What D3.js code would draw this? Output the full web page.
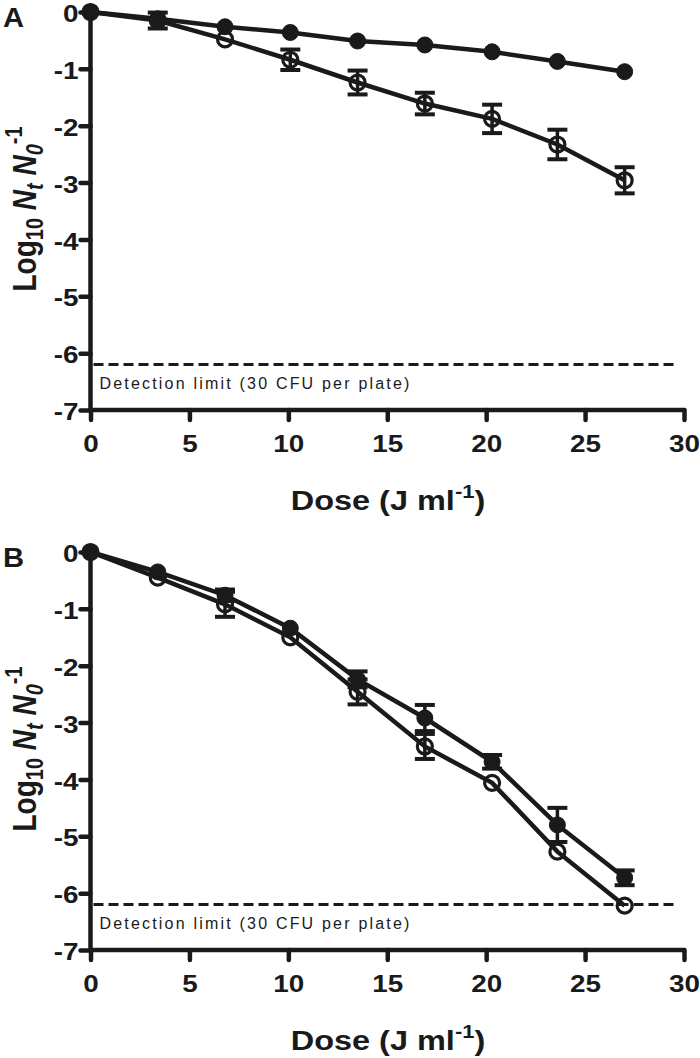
<!DOCTYPE html>
<html><head><meta charset="utf-8">
<script src="https://cdn.jsdelivr.net/npm/d3@7"></script>
<style>body{margin:0;background:#fff}svg{display:block}</style>
</head><body>
<script>
const dose = [0, 3.4, 6.8, 10.1, 13.5, 16.9, 20.3, 23.6, 27.0];
const xTicks = [0, 5, 10, 15, 20, 25, 30];
const yTicks = [0, -1, -2, -3, -4, -5, -6, -7];
const detectionLimit = -6.2;
const detectionText = "Detection limit (30 CFU per plate)";
const panelLabels = ["A", "B"];

const aFilled    = [0, -0.12, -0.26, -0.36, -0.51, -0.58, -0.70, -0.87, -1.05];
const aFilledErr = [0, 0.05, 0.04, 0.04, 0.04, 0.04, 0.04, 0.04, 0.04];
const aOpen      = [0, -0.15, -0.48, -0.84, -1.24, -1.61, -1.88, -2.33, -2.96];
const aOpenErr   = [0, 0.14, 0.06, 0.18, 0.21, 0.19, 0.25, 0.26, 0.23];

const bFilled    = [0, -0.35, -0.76, -1.34, -2.24, -2.92, -3.69, -4.80, -5.73];
const bFilledErr = [0, 0.05, 0.10, 0.05, 0.14, 0.23, 0.12, 0.30, 0.13];
const bOpen      = [0, -0.45, -0.92, -1.50, -2.46, -3.42, -4.06, -5.27, -6.22];
const bOpenErr   = [0, 0.05, 0.22, 0.05, 0.22, 0.22, 0.05, 0.05, 0.05];

const panels = [
  {label: panelLabels[0], top: 12, filled: aFilled, filledErr: aFilledErr, open: aOpen, openErr: aOpenErr},
  {label: panelLabels[1], top: 552, filled: bFilled, filledErr: bFilledErr, open: bOpen, openErr: bOpenErr}
];

const W = 700, H = 1058;
const svg = d3.select("body").append("svg").attr("width", W).attr("height", H);
const col = "#1a1a1a";
const font = "Liberation Sans, Arial, sans-serif";
const sx = 1.16;
const x = d3.scaleLinear().domain([0, 30]).range([90.5, 684]);
const fmt = d => String(d);

panels.forEach(p => {
  const y = d3.scaleLinear().domain([0, -7]).range([p.top, p.top + 398]);
  const g = svg.append("g");

  const yAx = g.append("g").attr("transform", `translate(${x(0)},0)`)
    .call(d3.axisLeft(y).tickValues(yTicks).tickFormat(fmt).tickSize(10).tickPadding(2));
  const xAx = g.append("g").attr("transform", `translate(0,${y(-7)})`)
    .call(d3.axisBottom(x).tickValues(xTicks).tickFormat(fmt).tickSize(10).tickPadding(15));
  [yAx, xAx].forEach(a => {
    a.select(".domain").remove();
    a.selectAll("line").attr("stroke", col).attr("stroke-width", 4.5).attr("stroke-linecap", "round");
    a.selectAll("text").attr("fill", col).attr("font-family", font)
      .attr("font-weight", "bold").attr("font-size", 24).attr("transform", `scale(${sx},1)`);
  });
  xAx.selectAll("text").attr("dy", "0.71em");
  yAx.selectAll("text").attr("dy", "0.4em").attr("x", -12 / sx);
  g.append("line").attr("x1", x(0)).attr("x2", x(0)).attr("y1", y(0)).attr("y2", y(-7))
    .attr("stroke", col).attr("stroke-width", 4.5).attr("stroke-linecap", "round");
  g.append("line").attr("x1", x(0)).attr("x2", x(30)).attr("y1", y(-7)).attr("y2", y(-7))
    .attr("stroke", col).attr("stroke-width", 4.5).attr("stroke-linecap", "round");

  g.append("line").attr("x1", x(0) + 3).attr("x2", x(29.7)).attr("y1", y(detectionLimit)).attr("y2", y(detectionLimit))
    .attr("stroke", col).attr("stroke-width", 3).attr("stroke-dasharray", "10,5");
  g.append("text").attr("x", x(0.45)).attr("y", y(detectionLimit) + 24)
    .attr("font-family", font).attr("font-size", 16).attr("fill", col)
    .attr("textLength", 310).attr("lengthAdjust", "spacing").text(detectionText);

  g.append("text").attr("transform", `translate(3,${p.top + 15}) scale(1.08,1)`).attr("font-family", font)
    .attr("font-weight", "bold").attr("font-size", 27).attr("fill", col).text(p.label);

  const xt = g.append("text").attr("transform", `translate(388,${p.top + 498}) scale(${sx},1)`).attr("text-anchor", "middle")
    .attr("font-family", font).attr("font-weight", "bold").attr("font-size", 28).attr("fill", col);
  xt.append("tspan").text("Dose (J ml");
  xt.append("tspan").attr("font-size", 19).attr("dy", -12).text("-1");
  xt.append("tspan").attr("dy", 12).text(")");

  const yc = p.top + 197;
  const yt = g.append("text").attr("transform", `translate(36,${yc}) scale(${sx},1) rotate(-90)`).attr("text-anchor", "middle")
    .attr("font-family", font).attr("font-weight", "bold").attr("font-size", 28).attr("fill", col);
  yt.append("tspan").text("Log");
  yt.append("tspan").attr("font-size", 20).attr("dy", 6).text("10");
  yt.append("tspan").attr("dy", -6).attr("font-style", "italic").text(" N");
  yt.append("tspan").attr("font-size", 20).attr("dy", 6).attr("font-style", "italic").text("t");
  yt.append("tspan").attr("dy", -6).attr("font-style", "italic").text(" N");
  yt.append("tspan").attr("font-size", 20).attr("dy", 6).attr("font-style", "italic").text("0");
  yt.append("tspan").attr("font-size", 20).attr("dy", -18).text("-1");

  const line = d3.line().x((d, i) => x(dose[i])).y(d => y(d));

  function series(vals, errs, filled) {
    const s = g.append("g");
    vals.forEach((v, i) => {
      if (errs[i] <= 0.06) return;
      const cx = x(dose[i]);
      s.append("line").attr("x1", cx).attr("x2", cx).attr("y1", y(v - errs[i])).attr("y2", y(v + errs[i]))
        .attr("stroke", col).attr("stroke-width", 3.5);
      [v - errs[i], v + errs[i]].forEach(e => {
        s.append("line").attr("x1", cx - 10).attr("x2", cx + 10).attr("y1", y(e)).attr("y2", y(e))
          .attr("stroke", col).attr("stroke-width", 4);
      });
    });
    s.append("path").datum(vals).attr("d", line).attr("fill", "none").attr("stroke", col).attr("stroke-width", 4.5);
    s.selectAll("circle").data(vals).join("circle")
      .attr("cx", (d, i) => x(dose[i])).attr("cy", d => y(d))
      .attr("r", filled ? 8 : 7.5)
      .attr("fill", filled ? col : "none").attr("stroke", col).attr("stroke-width", filled ? 1 : 3.2);
  }
  series(p.open, p.openErr, false);
  series(p.filled, p.filledErr, true);
});
</script>
</body></html>
